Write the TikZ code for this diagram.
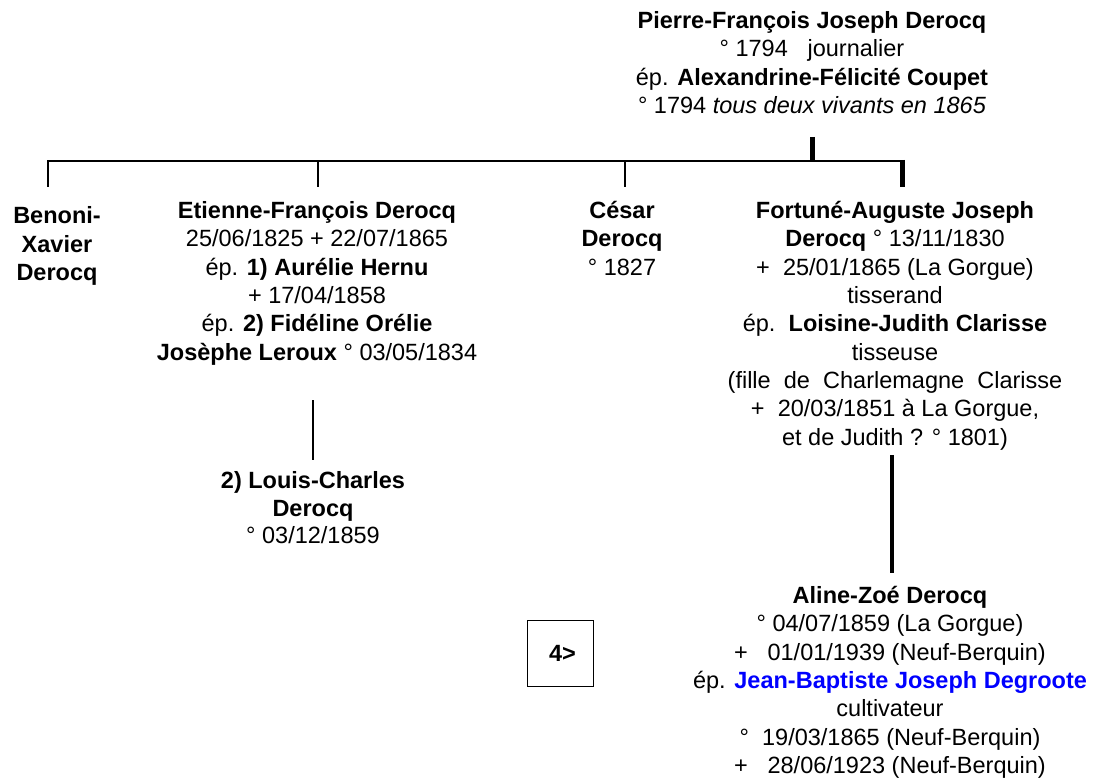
\documentclass[tikz,border=0pt]{standalone}
\usepackage{fontspec}
\setmainfont{Liberation Sans}
\definecolor{jbblue}{RGB}{0,0,255}
\newcommand{\fstrut}{\rule{0pt}{18pt}}
\newcommand{\xsp}{\hspace{0.28em}}
\begin{document}
\begin{tikzpicture}[x=1pt,y=-1pt,
  txt/.style={align=center,inner sep=0pt,anchor=north,font=\fontsize{23.5}{28.3}\selectfont},
  thinline/.style={line width=2pt},
  thickline/.style={line width=5pt},
  refbox/.style={draw,line width=1pt,minimum width=66pt,minimum height=66pt,inner sep=0pt,font=\fontsize{23.5}{28.3}\selectfont\bfseries}]
\useasboundingbox (0,0) rectangle (1097,778);
% parents
\node[txt] (pierre) at (812,10.4) {\fstrut\textbf{Pierre-François Joseph Derocq}\\
° 1794\xsp\xsp\xsp journalier\\
ép. \textbf{Alexandrine-Félicité Coupet}\\
° 1794 \textit{tous deux vivants en 1865}};
% bar
\coordinate (stubtop) at (812,137);
\coordinate (stubbot) at (812,161);
\coordinate (barL) at (47,161);
\coordinate (barR) at (904,161);
\coordinate (dBen) at (48,161);
\coordinate (dEti) at (318,161);
\coordinate (dCes) at (625,161);
\coordinate (dFor) at (902,160);
\coordinate (eBen) at (48,187);
\coordinate (eEti) at (318,187);
\coordinate (eCes) at (625,187);
\coordinate (eFor) at (902,187);
\draw[thickline] (stubtop) -- (stubbot);
\draw[thinline] (barL) -- (barR);
\draw[thinline] (dBen) -- (eBen);
\draw[thinline] (dEti) -- (eEti);
\draw[thinline] (dCes) -- (eCes);
\draw[thickline] (dFor) -- (eFor);
% children
\node[txt,font=\fontsize{23.5}{28.5}\selectfont] (benoni) at (57,205.4) {\fstrut\textbf{Benoni-}\\\textbf{Xavier}\\\textbf{Derocq}};
\node[txt] (etienne) at (317,200.4) {\fstrut\textbf{Etienne-François Derocq}\\
25/06/1825 + 22/07/1865\\
ép. \textbf{1) Aurélie Hernu}\\
+ 17/04/1858\\
ép. \textbf{2) Fidéline Orélie}\\
\textbf{Josèphe Leroux} ° 03/05/1834};
\node[txt] (cesar) at (622,200.4) {\fstrut\textbf{César}\\\textbf{Derocq}\\° 1827};
\node[txt] (fortune) at (895,200.4) {\fstrut\textbf{Fortuné-Auguste Joseph}\\
\textbf{Derocq} ° 13/11/1830\\
+\xsp\xsp 25/01/1865 (La Gorgue)\\
tisserand\\
ép.\xsp\xsp\textbf{Loisine-Judith Clarisse}\\
tisseuse\\
(fille\xsp\xsp de\xsp\xsp Charlemagne\xsp\xsp Clarisse\\
+\xsp\xsp 20/03/1851 à La Gorgue,\\
et de Judith ? ° 1801)};
% Louis-Charles
\coordinate (lTop) at (313,400);
\coordinate (lBot) at (313,460);
\draw[thinline] (lTop) -- (lBot);
\node[txt,font=\fontsize{23.5}{27.5}\selectfont] (louis) at (313,470.4) {\fstrut\textbf{2) Louis-Charles}\\\textbf{Derocq}\\° 03/12/1859};
% Aline
\coordinate (aTop) at (892,455);
\coordinate (aBot) at (892,573);
\draw[line width=4pt] (aTop) -- (aBot);
\node[txt] (aline) at (890,585.4) {\fstrut\textbf{Aline-Zoé Derocq}\\
° 04/07/1859 (La Gorgue)\\
+\xsp\xsp\xsp 01/01/1939 (Neuf-Berquin)\\
ép. \textcolor{jbblue}{\textbf{Jean-Baptiste Joseph Degroote}}\\
cultivateur\\
°\xsp\xsp 19/03/1865\xsp (Neuf-Berquin)\\
+\xsp\xsp\xsp 28/06/1923 (Neuf-Berquin)};
% box
\node[refbox] (next) at (560,653) {\raisebox{-8pt}{\hspace{5pt}4>}};
\end{tikzpicture}
\end{document}
